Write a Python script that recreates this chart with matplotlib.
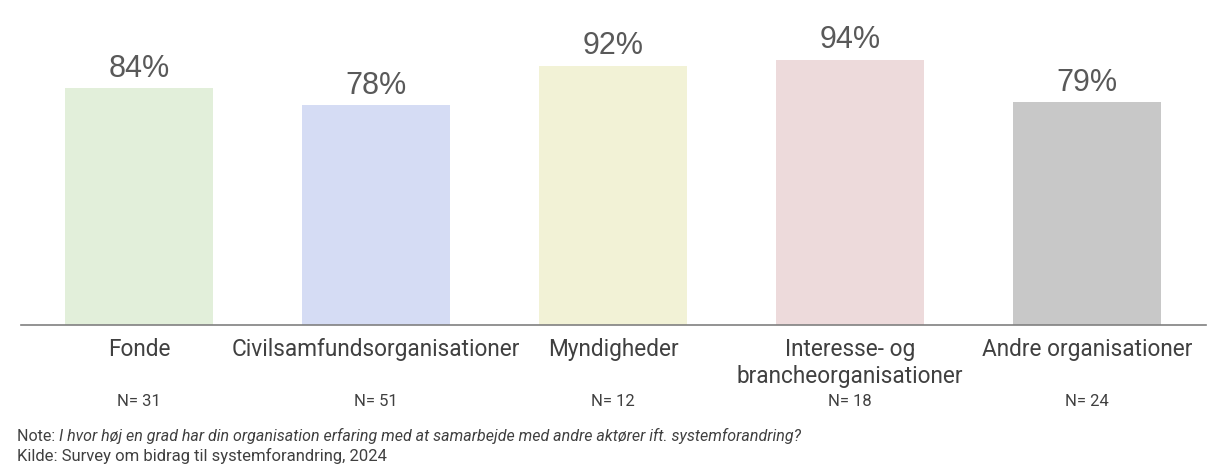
import matplotlib
matplotlib.use("Agg")
import matplotlib.pyplot as plt

categories = ["Fonde", "Civilsamfundsorganisationer", "Myndigheder",
              "Interesse- og\nbrancheorganisationer", "Andre organisationer"]
values = [84, 78, 92, 94, 79]
n_labels = ["N= 31", "N= 51", "N= 12", "N= 18", "N= 24"]
colors = ["#e2efda", "#d5dcf4", "#f2f2d6", "#eddadb", "#c8c8c8"]

note_prefix = "Note: "
note_text = "I hvor høj en grad har din organisation erfaring med at samarbejde med andre aktører ift. systemforandring?"
source_text = "Kilde: Survey om bidrag til systemforandring, 2024"

W, H = 1219, 471
fig = plt.figure(figsize=(W / 100, H / 100), dpi=100)
ax = fig.add_axes([20.5 / W, (H - 325) / H, 1185 / W, 325 / H])

x = list(range(len(categories)))
ax.bar(x, values, width=0.625, color=colors, zorder=2)
ax.set_xlim(-0.5, len(categories) - 0.5)
ax.set_ylim(0, 325 / 2.82)

for xi, v in zip(x, values):
    ax.text(xi, v + 1.6, f"{v}%", ha="center", va="bottom", fontsize=22,
            color="#595959", family="Liberation Sans")

for s in ["top", "right", "left"]:
    ax.spines[s].set_visible(False)
ax.spines["bottom"].set_color("#808080")
ax.spines["bottom"].set_linewidth(1.2)
ax.set_yticks([])
ax.set_xticks(x)
ax.set_xticklabels([])
ax.tick_params(axis="x", length=0)

lab_font = "Roboto"
for xi, c in zip(x, categories):
    ax.annotate(c, xy=(xi, 0), xycoords="data", xytext=(0, -13),
                textcoords="offset pixels", ha="center", va="top",
                fontsize=16.3, color="#404040", family=lab_font,
                linespacing=1.25)

for xi, n in zip(x, n_labels):
    ax.annotate(n, xy=(xi, 0), xycoords="data", xytext=(0, -69),
                textcoords="offset pixels", ha="center", va="top",
                fontsize=12, color="#404040", family=lab_font)

t = fig.text(17 / W, 1 - 441 / H, note_prefix, ha="left", va="baseline",
             fontsize=11.5, color="#404040", family=lab_font)
fig.canvas.draw()
bb = t.get_window_extent()
fig.text(bb.x1 / W, 1 - 441 / H, note_text, ha="left", va="baseline",
         fontsize=11.5, color="#404040", family=lab_font, style="italic")
fig.text(17 / W, 1 - 461 / H, source_text, ha="left", va="baseline",
         fontsize=12, color="#404040", family=lab_font)

fig.savefig("out.png", dpi=100)
